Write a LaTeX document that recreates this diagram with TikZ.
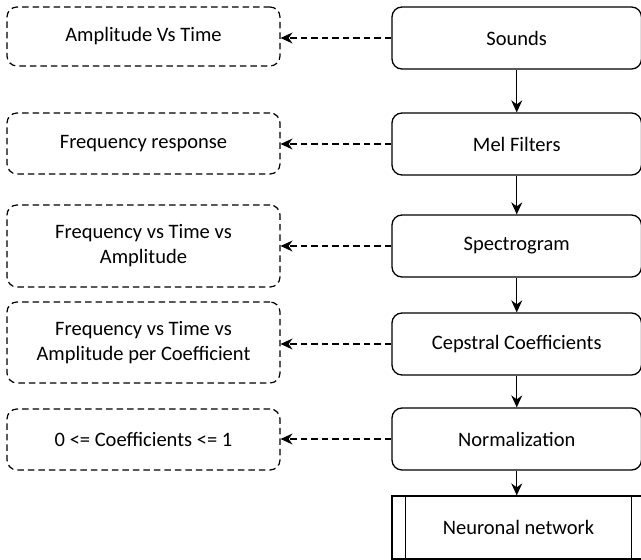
\documentclass[tikz,border=0pt]{standalone}
\usepackage{fontspec}
\setmainfont{Carlito}
\usetikzlibrary{arrows.meta}
\begin{document}
\begin{tikzpicture}[x=1pt,y=-1pt,
  every node/.style={font=\fontsize{20.5}{25}\selectfont, align=center, inner sep=0pt},
  stepbox/.style={draw, line width=1.3pt, rounded corners=10pt, minimum width=249.5pt, minimum height=62pt},
  notebox/.style={draw, line width=1.2pt, dash pattern=on 6.5pt off 4pt, rounded corners=10pt, minimum width=273pt},
  nnbox/.style={draw, line width=1.3pt, minimum width=253pt, minimum height=63pt},
  flow/.style={line width=1.3pt, -{Stealth[length=12pt,width=11pt,inset=4pt]}},
  ref/.style={line width=1.2pt, dash pattern=on 6.5pt off 4pt, -{Stealth[length=12pt,width=11pt,inset=4pt]}}
]
\useasboundingbox (0,0) rectangle (641,560);
\fill[white] (0,0) rectangle (641,560);

\node[stepbox] (s1) at (516.75,38) {Sounds};
\node[stepbox] (s2) at (516.75,144) {Mel Filters};
\node[stepbox] (s3) at (516.75,246) {Spectrogram};
\node[stepbox] (s4) at (516.75,344) {Cepstral Coefficients};
\node[stepbox] (s5) at (516.75,439) {Normalization};
\node[nnbox] (nn) at (518.5,527.5) {Neuronal network};
\draw[line width=1.3pt] ([xshift=14pt]nn.north west) -- ([xshift=14pt]nn.south west);
\draw[line width=1.3pt] ([xshift=-14pt]nn.north east) -- ([xshift=-14pt]nn.south east);

\node[notebox, minimum height=59pt] (n1) at (143.5,36.5) {Amplitude Vs Time};
\node[notebox, minimum height=61pt] (n2) at (143.5,143.5) {Frequency response};
\node[notebox, minimum height=82pt] (n3) at (143.5,246) {Frequency vs Time vs\\Amplitude};
\node[notebox, minimum height=81pt] (n4) at (143.5,342.5) {Frequency vs Time vs\\Amplitude per Coefficient};
\node[notebox, minimum height=61pt] (n5) at (143.5,439.5) {0 <= Coefficients <= 1};

\draw[flow] (s1.south) -- (s2.north);
\draw[flow] (s2.south) -- (s3.north);
\draw[flow] (s3.south) -- (s4.north);
\draw[flow] (s4.south) -- (s5.north);
\draw[flow] (s5.south) -- (s5.south |- nn.north);

\draw[ref] (s1.west) -- (n1.east |- s1.west);
\draw[ref] (s2.west) -- (n2.east |- s2.west);
\draw[ref] (s3.west) -- (n3.east |- s3.west);
\draw[ref] (s4.west) -- (n4.east |- s4.west);
\draw[ref] (s5.west) -- (n5.east |- s5.west);
\end{tikzpicture}
\end{document}
